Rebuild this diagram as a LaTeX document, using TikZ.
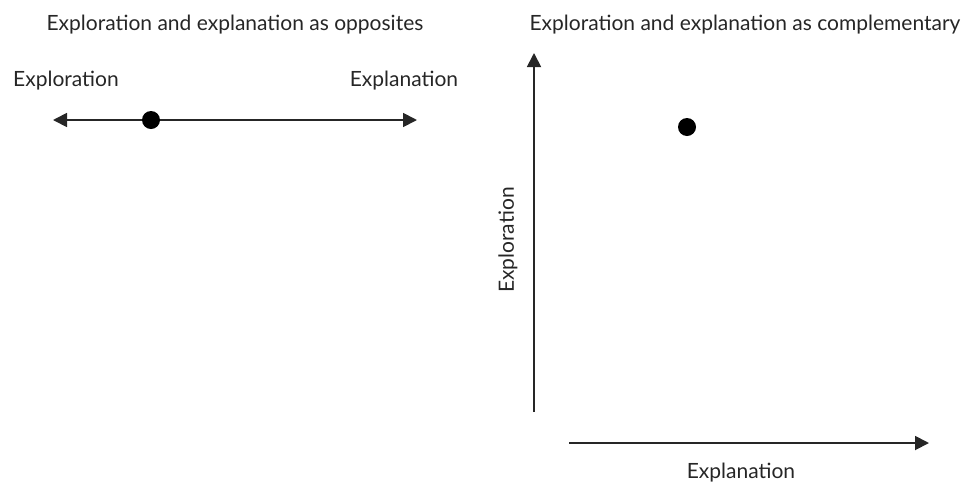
\documentclass[tikz,border=0pt]{standalone}
\usepackage{fontspec}
\setmainfont{Lato}
\usetikzlibrary{arrows.meta}
\begin{document}
\begin{tikzpicture}[x=1pt,y=-1pt,
  lbl/.style={font=\fontsize{21}{24}\selectfont, text=black!85, inner sep=0pt},
  axis/.style={line width=1.8pt, black!85, -{Triangle[length=14pt,width=14pt]}},
  dot/.style={circle, fill=black, minimum size=18pt, inner sep=0pt}]
\useasboundingbox (0,0) rectangle (968,483);
% left
\node[lbl] (t1) at (235,25) {Exploration and explanation as opposites};
\node[lbl] (l1) at (66,81) {Exploration};
\node[lbl] (r1) at (404,81) {Explanation};
\coordinate (la) at (53,120);
\coordinate (ra) at (417,120);
\draw[axis, {Triangle[length=14pt,width=14pt]}-{Triangle[length=14pt,width=14pt]}] (la) -- (ra);
\node[dot] (d1) at (151,120) {};
% right
\node[lbl] (t2) at (745,25) {Exploration and explanation as complementary};
\coordinate (vb) at (534,412);
\coordinate (vt) at (534,53);
\draw[axis] (vb) -- (vt);
\node[lbl, rotate=90] (yl) at (508,240) {Exploration};
\coordinate (hb) at (569,443);
\coordinate (ht) at (929,443);
\draw[axis] (hb) -- (ht);
\node[lbl] (xl) at (741,473) {Explanation};
\node[dot] (d2) at (687,127) {};
\end{tikzpicture}
\end{document}
